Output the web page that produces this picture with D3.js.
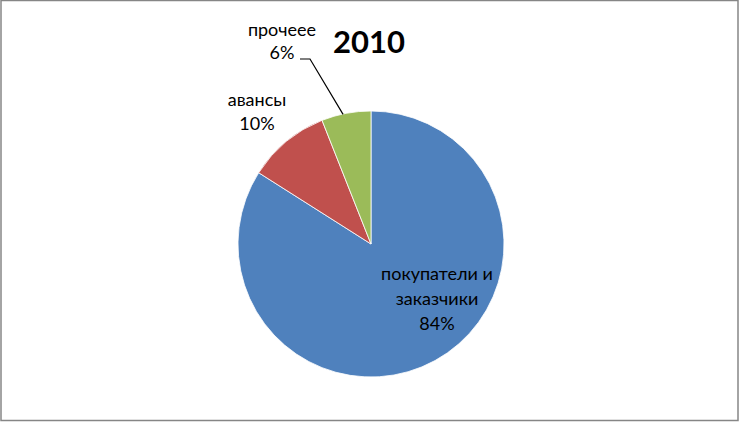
<!DOCTYPE html>
<html><head><meta charset="utf-8">
<script src="https://cdn.jsdelivr.net/npm/d3@7"></script>
<style>html,body{margin:0;padding:0;background:#fff;}</style>
</head><body>
<script>
const categories = ["покупатели и заказчики", "авансы", "прочеее"];
const values = [84, 10, 6];
const colors = ["#4F81BD", "#C0504D", "#9BBB59"];
const title = "2010";

const W = 740, H = 422;
const svg = d3.select("body").append("svg").attr("width", W).attr("height", H);
svg.append("rect").attr("x", 1).attr("y", 0.5).attr("width", 737).attr("height", 420)
  .attr("fill", "#fff").attr("stroke", "#868686").attr("stroke-width", 1.5);

const cx = 371, cy = 244, r = 133;
const pie = d3.pie().sort(null).value(d => d)(values);
const arc = d3.arc().innerRadius(0).outerRadius(r);
const g = svg.append("g").attr("transform", `translate(${cx},${cy})`);
g.selectAll("path").data(pie).join("path")
  .attr("d", arc).attr("fill", (d, i) => colors[i])
  .attr("stroke", "#fff").attr("stroke-width", 0.8);

const font = "Lato, 'Noto Sans', sans-serif";
svg.append("text").attr("x", 369).attr("y", 53).attr("text-anchor", "middle")
  .attr("font-family", font).attr("font-weight", "bold").attr("font-size", 31)
  .attr("fill", "#000").text(title);

function label(lines, x, y0, dy) {
  const t = svg.append("text").attr("font-family", font).attr("font-size", 18)
    .attr("fill", "#000").attr("text-anchor", "middle");
  lines.forEach((s, i) => t.append("tspan").attr("x", x).attr("y", y0 + i * dy).text(s));
}
const pct = v => Math.round(v / d3.sum(values) * 100) + "%";
label(["покупатели и", "заказчики", pct(values[0])], 437, 280, 25);
label([categories[1], pct(values[1])], 257, 106, 24);
label([categories[2], pct(values[2])], 282, 36, 23);

// leader line for small slice
const a = (pie[2].startAngle + pie[2].endAngle) / 2;
svg.append("polyline")
  .attr("points", `300,59 310,59 ${cx + Math.sin(a) * r - 3},${cy - Math.cos(a) * r + 1}`)
  .attr("fill", "none").attr("stroke", "#000").attr("stroke-width", 1.2);
</script>
</body></html>
